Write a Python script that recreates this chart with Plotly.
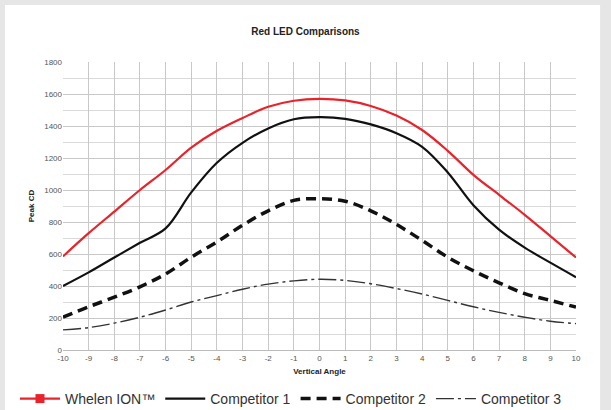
import plotly.graph_objects as go

angles = list(range(-10, 11))
whelen = [585, 730, 865, 1000, 1125, 1265, 1370, 1450, 1520, 1558, 1570, 1560, 1525, 1465, 1375, 1245, 1095, 970, 845, 712, 578]
comp1 = [400, 485, 578, 670, 760, 985, 1170, 1295, 1385, 1442, 1455, 1445, 1410, 1355, 1270, 1110, 905, 752, 640, 546, 455]
comp2 = [205, 270, 330, 395, 475, 580, 675, 780, 870, 935, 945, 930, 870, 785, 685, 580, 495, 420, 352, 310, 268]
comp3 = [126, 140, 168, 205, 250, 300, 340, 380, 412, 432, 442, 435, 414, 384, 350, 310, 270, 235, 205, 180, 165]
names = ["Whelen ION™", "Competitor 1", "Competitor 2", "Competitor 3"]
y_ticks = list(range(0, 1801, 200))
x_ticktext = [str(a) for a in angles]

fig = go.Figure()
fig.add_trace(go.Scatter(x=angles, y=whelen, mode="lines", line=dict(color="#e8232b", width=2.2, shape="spline"),
                         showlegend=False))
fig.add_trace(go.Scatter(x=[None], y=[None], mode="lines+markers", name=names[0],
                         line=dict(color="#e8232b", width=2.2),
                         marker=dict(symbol="square", size=9, color="#e8232b")))
fig.add_trace(go.Scatter(x=angles, y=comp1, mode="lines", name=names[1],
                         line=dict(color="#111111", width=2.2, shape="spline")))
fig.add_trace(go.Scatter(x=angles, y=comp2, mode="lines", name=names[2],
                         line=dict(color="#111111", width=3.5, shape="spline", dash="10px,6px")))
fig.add_trace(go.Scatter(x=angles, y=comp3, mode="lines", name=names[3],
                         line=dict(color="#333333", width=1.4, shape="spline", dash="18px,4px,3px,4px")))

fig.add_shape(type="rect", xref="paper", yref="paper", x0=-0.113, x1=1.047, y0=-0.25, y1=1.198,
              fillcolor="white", line=dict(width=0), layer="below")

fig.update_layout(
    width=611, height=410,
    margin=dict(l=63, r=35, t=62, b=60, autoexpand=False),
    paper_bgcolor="#e6e6e6",
    plot_bgcolor="white",
    font=dict(family="Liberation Sans, Arial, sans-serif", color="#333"),
    title=dict(text="<b>Red LED Comparisons</b>", x=0.5, xanchor="center", y=0.922, yanchor="middle",
               xref="container", yref="container", font=dict(size=10, color="#222")),
    showlegend=True,
    legend=dict(orientation="h", xref="paper", yref="paper", x=-0.0936, xanchor="left",
                y=-0.1146, yanchor="top",
                font=dict(size=14, color="#333"), bgcolor="rgba(0,0,0,0)",
                itemwidth=40, tracegroupgap=0),
)
fig.update_xaxes(range=[-10, 10], tickvals=angles, ticktext=x_ticktext, showgrid=True, gridcolor="#c8c8c8",
                 gridwidth=1, zeroline=False, showline=True, linecolor="#bbbbbb", ticks="",
                 tickfont=dict(size=8, color="#555"),
                 title=dict(text="<b>Vertical Angle</b>", font=dict(size=8, color="#222"), standoff=6))
fig.update_yaxes(range=[0, 1800], tickvals=y_ticks, showgrid=True, gridcolor="#c8c8c8", gridwidth=1,
                 zeroline=False, showline=False, ticks="",
                 minor=dict(dtick=100, showgrid=True, gridcolor="#dadada"),
                 tickfont=dict(size=8, color="#555"),
                 title=dict(text="<b>Peak CD</b>", font=dict(size=8, color="#222"), standoff=8))

fig.write_html("out.html", config={"displayModeBar": False},
               post_script="document.body.style.margin='0';document.body.style.background='#e6e6e6';")
